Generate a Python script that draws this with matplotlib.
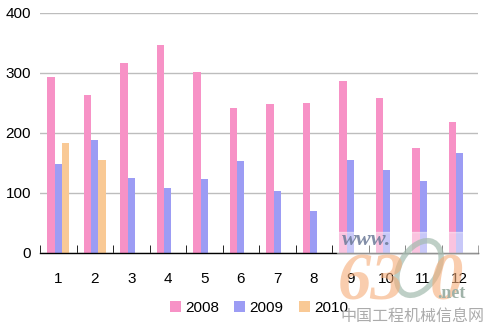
"""
Monthly sales 2008-2010, grouped bars
"""
import numpy as np
import matplotlib.pyplot as plt
from matplotlib.patches import Rectangle, Ellipse

plt.rcParams['font.family'] = ['Liberation Sans', 'DejaVu Sans']

months = ['1', '2', '3', '4', '5', '6', '7', '8', '9', '10', '11', '12']
sales_2008 = [294, 264, 317, 347, 302, 242, 248, 250, 287, 258, 175, 218]
sales_2009 = [148, 188, 125, 108, 123, 153, 103, 70, 155, 138, 120, 167]
sales_2010 = [183, 155]
years = ['2008', '2009', '2010']
colors = ['#F792C6', '#9C9CF4', '#F9C995']

W, H = 488, 323
fig = plt.figure(figsize=(W / 100, H / 100), dpi=100)
ax = fig.add_axes([40 / W, 1 - 253 / H, 438 / W, 240 / H])

x = np.arange(len(months))
w = 0.205
ax.bar(x - w, sales_2008, w, color=colors[0], label=years[0], zorder=2)
ax.bar(x, sales_2009, w, color=colors[1], label=years[1], zorder=2)
ax.bar(x[:len(sales_2010)] + w, sales_2010, w, color=colors[2], label=years[2], zorder=2)

ax.set_xlim(-0.5, len(months) - 0.5)
ax.set_ylim(0, 400)
ax.set_yticks(range(0, 401, 100))
ax.yaxis.grid(True, color='#BDBDBD', linewidth=1)
ax.set_axisbelow(True)
for side in ['left', 'right', 'top']:
    ax.spines[side].set_visible(False)
ax.spines['bottom'].set_color('black')
ax.spines['bottom'].set_linewidth(1)

# category labels centred, tick marks on the boundaries
ax.set_xticks(x)
ax.set_xticklabels(months)
ax.tick_params(axis='x', length=0, pad=14, labelsize=11)
ax.set_xticks(np.arange(-0.5, len(months)), minor=True)
ax.tick_params(axis='x', which='minor', direction='in', length=6, color='black')
ax.tick_params(axis='y', length=0, pad=6.5, labelsize=11)

fig.legend(loc='center', bbox_to_anchor=(259 / W, 1 - 307.5 / H), ncol=3,
           frameon=False, fontsize=11, handlelength=0.72, handleheight=0.72,
           handletextpad=0.28, columnspacing=1.0, borderpad=0)

# site watermark
def px(xp, yp):
    return xp / W, 1 - yp / H

fig.patches.append(Rectangle(px(337, 253), 141 / W, 21 / H, transform=fig.transFigure,
                             color='white', alpha=0.45, zorder=5))
serif = 'Liberation Serif'
orange = '#F5AC78'
fig.text(*px(338, 299), '63', fontsize=48, style='italic', fontweight='bold', family=serif,
         color=orange, alpha=0.6, zorder=6)
fig.patches.append(Ellipse(px(419, 268), 40 / W, 56 / H, angle=-15, transform=fig.transFigure,
                           fill=False, lw=4, ec='#A3BBAE', alpha=0.7, zorder=6))
fig.text(*px(430, 299), '0', fontsize=48, style='italic', fontweight='bold', family=serif,
         color=orange, alpha=0.6, zorder=6)
fig.text(*px(342, 240), 'www.', fontsize=16, fontweight='bold', style='italic',
         family=serif, color='#6C7A98', alpha=0.85, va='center', zorder=7)
fig.text(*px(437, 293), '.net', fontsize=13, fontweight='bold',
         family=serif, color='#9FB2A8', va='center', zorder=7)
fig.text(*px(340, 316), '中国工程机械信息网', fontsize=11.5,
         family=['Noto Sans CJK SC', 'DejaVu Sans'], color='#ABABAB', va='center', zorder=7)

fig.savefig('out.png', dpi=100)
